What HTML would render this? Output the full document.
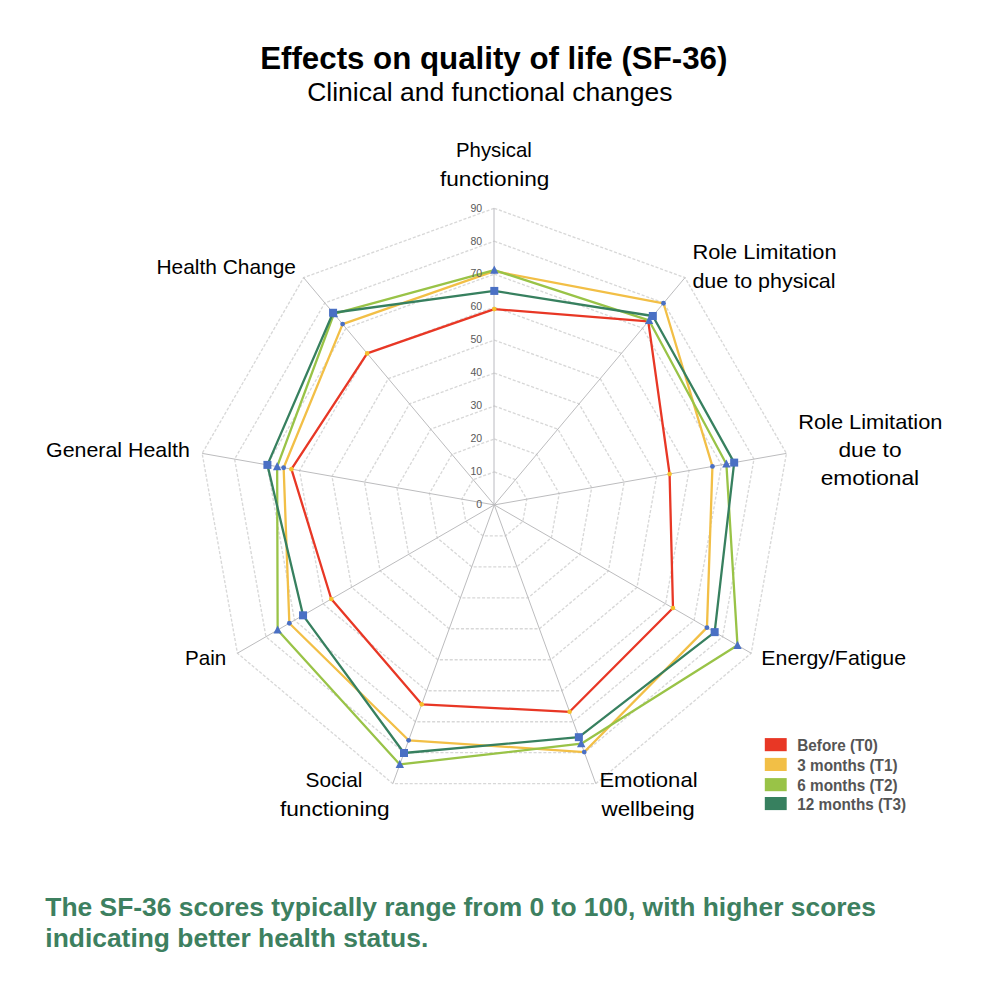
<!DOCTYPE html>
<html><head><meta charset="utf-8"><title>Effects on quality of life (SF-36)</title>
<style>
html,body{margin:0;padding:0;background:#fff;}
body{width:1000px;height:1000px;position:relative;overflow:hidden;font-family:"Liberation Sans",sans-serif;}
svg text{font-family:"Liberation Sans",sans-serif;}
</style></head><body>
<svg width="1000" height="1000" viewBox="0 0 1000 1000" style="position:absolute;left:0;top:0">
<polygon points="494.30,471.94 515.49,479.65 526.76,499.18 522.84,521.38 505.57,535.87 483.03,535.87 465.76,521.38 461.84,499.18 473.11,479.65" fill="none" stroke="#D8D8D8" stroke-width="1.35" stroke-dasharray="3.1 1.8"/>
<polygon points="494.30,438.98 536.67,454.40 559.22,493.45 551.39,537.86 516.85,566.84 471.75,566.84 437.21,537.86 429.38,493.45 451.93,454.40" fill="none" stroke="#D8D8D8" stroke-width="1.35" stroke-dasharray="3.1 1.8"/>
<polygon points="494.30,406.02 557.86,429.15 591.68,487.73 579.93,554.34 528.12,597.82 460.48,597.82 408.67,554.34 396.92,487.73 430.74,429.15" fill="none" stroke="#D8D8D8" stroke-width="1.35" stroke-dasharray="3.1 1.8"/>
<polygon points="494.30,373.06 579.05,403.90 624.14,482.01 608.48,570.82 539.39,628.79 449.21,628.79 380.12,570.82 364.46,482.01 409.55,403.90" fill="none" stroke="#D8D8D8" stroke-width="1.35" stroke-dasharray="3.1 1.8"/>
<polygon points="494.30,340.10 600.23,378.66 656.60,476.28 637.02,587.30 550.66,659.76 437.94,659.76 351.58,587.30 332.00,476.28 388.37,378.66" fill="none" stroke="#D8D8D8" stroke-width="1.35" stroke-dasharray="3.1 1.8"/>
<polygon points="494.30,307.14 621.42,353.41 689.06,470.56 665.57,603.78 561.94,690.73 426.66,690.73 323.03,603.78 299.54,470.56 367.18,353.41" fill="none" stroke="#D8D8D8" stroke-width="1.35" stroke-dasharray="3.1 1.8"/>
<polygon points="494.30,274.18 642.60,328.16 721.51,464.84 694.11,620.26 573.21,721.71 415.39,721.71 294.49,620.26 267.09,464.84 346.00,328.16" fill="none" stroke="#D8D8D8" stroke-width="1.35" stroke-dasharray="3.1 1.8"/>
<polygon points="494.30,241.22 663.79,302.91 753.97,459.11 722.65,636.74 584.48,752.68 404.12,752.68 265.95,636.74 234.63,459.11 324.81,302.91" fill="none" stroke="#D8D8D8" stroke-width="1.35" stroke-dasharray="3.1 1.8"/>
<polygon points="494.30,208.26 684.98,277.66 786.43,453.39 751.20,653.22 595.76,783.65 392.84,783.65 237.40,653.22 202.17,453.39 303.62,277.66" fill="none" stroke="#D8D8D8" stroke-width="1.35" stroke-dasharray="3.1 1.8"/>
<line x1="494" y1="504.90" x2="494" y2="208.26" stroke="#BABAC0" stroke-width="1"/>
<line x1="494.30" y1="504.90" x2="684.98" y2="277.66" stroke="#BCBCBE" stroke-width="1"/>
<line x1="494.30" y1="504.90" x2="786.43" y2="453.39" stroke="#BCBCBE" stroke-width="1"/>
<line x1="494.30" y1="504.90" x2="751.20" y2="653.22" stroke="#BCBCBE" stroke-width="1"/>
<line x1="494.30" y1="504.90" x2="595.76" y2="783.65" stroke="#BCBCBE" stroke-width="1"/>
<line x1="494.30" y1="504.90" x2="392.84" y2="783.65" stroke="#BCBCBE" stroke-width="1"/>
<line x1="494.30" y1="504.90" x2="237.40" y2="653.22" stroke="#BCBCBE" stroke-width="1"/>
<line x1="494.30" y1="504.90" x2="202.17" y2="453.39" stroke="#BCBCBE" stroke-width="1"/>
<line x1="494.30" y1="504.90" x2="303.62" y2="277.66" stroke="#BCBCBE" stroke-width="1"/>
<polygon points="494.30,309.12 648.28,321.39 669.58,473.99 672.99,608.06 569.60,711.79 421.70,704.36 331.31,599.00 291.43,469.13 367.18,353.41" fill="none" stroke="#E83725" stroke-width="2.30" stroke-linejoin="round"/>
<circle cx="494.30" cy="309.12" r="2.3" fill="#F5C02C"/>
<circle cx="648.28" cy="321.39" r="2.3" fill="#F5C02C"/>
<circle cx="669.58" cy="473.99" r="2.3" fill="#F5C02C"/>
<circle cx="672.99" cy="608.06" r="2.3" fill="#F5C02C"/>
<circle cx="569.60" cy="711.79" r="2.3" fill="#F5C02C"/>
<circle cx="421.70" cy="704.36" r="2.3" fill="#F5C02C"/>
<circle cx="331.31" cy="599.00" r="2.3" fill="#F5C02C"/>
<circle cx="291.43" cy="469.13" r="2.3" fill="#F5C02C"/>
<circle cx="367.18" cy="353.41" r="2.3" fill="#F5C02C"/>
<polygon points="494.30,271.21 663.49,303.26 712.43,466.44 706.95,627.68 584.26,752.06 408.63,740.29 289.35,623.23 283.64,467.75 342.61,324.12" fill="none" stroke="#F2BF46" stroke-width="2.30" stroke-linejoin="round"/>
<circle cx="494.30" cy="271.21" r="2.4" fill="#4A70C4"/>
<circle cx="663.49" cy="303.26" r="2.4" fill="#4A70C4"/>
<circle cx="712.43" cy="466.44" r="2.4" fill="#4A70C4"/>
<circle cx="706.95" cy="627.68" r="2.4" fill="#4A70C4"/>
<circle cx="584.26" cy="752.06" r="2.4" fill="#4A70C4"/>
<circle cx="408.63" cy="740.29" r="2.4" fill="#4A70C4"/>
<circle cx="289.35" cy="623.23" r="2.4" fill="#4A70C4"/>
<circle cx="283.64" cy="467.75" r="2.4" fill="#4A70C4"/>
<circle cx="342.61" cy="324.12" r="2.4" fill="#4A70C4"/>
<polygon points="494.30,270.06 649.09,320.43 726.38,463.98 737.50,645.31 581.21,743.70 399.83,764.45 277.65,629.98 277.15,466.61 333.92,313.77" fill="none" stroke="#99C347" stroke-width="2.30" stroke-linejoin="round"/>
<polygon points="494.30,265.46 498.50,273.66 490.10,273.66" fill="#4A70C4"/>
<polygon points="649.09,315.83 653.29,324.03 644.89,324.03" fill="#4A70C4"/>
<polygon points="726.38,459.38 730.58,467.58 722.18,467.58" fill="#4A70C4"/>
<polygon points="737.50,640.71 741.70,648.91 733.30,648.91" fill="#4A70C4"/>
<polygon points="581.21,739.10 585.41,747.30 577.01,747.30" fill="#4A70C4"/>
<polygon points="399.83,759.85 404.03,768.05 395.63,768.05" fill="#4A70C4"/>
<polygon points="277.65,625.38 281.85,633.58 273.45,633.58" fill="#4A70C4"/>
<polygon points="277.15,462.01 281.35,470.21 272.95,470.21" fill="#4A70C4"/>
<polygon points="333.92,309.17 338.12,317.37 329.72,317.37" fill="#4A70C4"/>
<polygon points="494.30,290.92 652.82,315.99 734.17,462.60 714.66,632.13 578.85,737.19 404.00,752.99 303.05,615.32 267.41,464.89 333.07,312.76" fill="none" stroke="#37805F" stroke-width="2.30" stroke-linejoin="round"/>
<rect x="490.30" y="286.92" width="8" height="8" fill="#4A70C4"/>
<rect x="648.82" y="311.99" width="8" height="8" fill="#4A70C4"/>
<rect x="730.17" y="458.60" width="8" height="8" fill="#4A70C4"/>
<rect x="710.66" y="628.13" width="8" height="8" fill="#4A70C4"/>
<rect x="574.85" y="733.19" width="8" height="8" fill="#4A70C4"/>
<rect x="400.00" y="748.99" width="8" height="8" fill="#4A70C4"/>
<rect x="299.05" y="611.32" width="8" height="8" fill="#4A70C4"/>
<rect x="263.41" y="460.89" width="8" height="8" fill="#4A70C4"/>
<rect x="329.07" y="308.76" width="8" height="8" fill="#4A70C4"/>
<text x="482.2" y="508.20" text-anchor="end" font-size="10.5" fill="#595959">0</text>
<text x="482.2" y="475.24" text-anchor="end" font-size="10.5" fill="#595959">10</text>
<text x="482.2" y="442.28" text-anchor="end" font-size="10.5" fill="#595959">20</text>
<text x="482.2" y="409.32" text-anchor="end" font-size="10.5" fill="#595959">30</text>
<text x="482.2" y="376.36" text-anchor="end" font-size="10.5" fill="#595959">40</text>
<text x="482.2" y="343.40" text-anchor="end" font-size="10.5" fill="#595959">50</text>
<text x="482.2" y="310.44" text-anchor="end" font-size="10.5" fill="#595959">60</text>
<text x="482.2" y="277.48" text-anchor="end" font-size="10.5" fill="#595959">70</text>
<text x="482.2" y="244.52" text-anchor="end" font-size="10.5" fill="#595959">80</text>
<text x="482.2" y="211.56" text-anchor="end" font-size="10.5" fill="#595959">90</text>
<text x="260.20" y="69.00" font-size="31.00" font-weight="bold" fill="#000" textLength="467.20" lengthAdjust="spacingAndGlyphs">Effects on quality of life (SF-36)</text>
<text x="307.20" y="100.50" font-size="26.30" font-weight="normal" fill="#000" textLength="365.20" lengthAdjust="spacingAndGlyphs">Clinical and functional changes</text>
<text x="456.00" y="156.90" font-size="20.70" font-weight="normal" fill="#000" textLength="75.80" lengthAdjust="spacingAndGlyphs">Physical</text>
<text x="440.00" y="186.00" font-size="20.70" font-weight="normal" fill="#000" textLength="109.40" lengthAdjust="spacingAndGlyphs">functioning</text>
<text x="692.40" y="259.30" font-size="20.70" font-weight="normal" fill="#000" textLength="144.20" lengthAdjust="spacingAndGlyphs">Role Limitation</text>
<text x="692.40" y="288.00" font-size="20.70" font-weight="normal" fill="#000" textLength="143.20" lengthAdjust="spacingAndGlyphs">due to physical</text>
<text x="798.20" y="428.80" font-size="20.70" font-weight="normal" fill="#000" textLength="144.30" lengthAdjust="spacingAndGlyphs">Role Limitation</text>
<text x="838.40" y="456.70" font-size="20.70" font-weight="normal" fill="#000" textLength="63.20" lengthAdjust="spacingAndGlyphs">due to</text>
<text x="820.70" y="485.10" font-size="20.70" font-weight="normal" fill="#000" textLength="98.40" lengthAdjust="spacingAndGlyphs">emotional</text>
<text x="761.30" y="664.60" font-size="20.70" font-weight="normal" fill="#000" textLength="144.80" lengthAdjust="spacingAndGlyphs">Energy/Fatigue</text>
<text x="599.40" y="786.90" font-size="20.70" font-weight="normal" fill="#000" textLength="98.20" lengthAdjust="spacingAndGlyphs">Emotional</text>
<text x="601.50" y="815.50" font-size="20.70" font-weight="normal" fill="#000" textLength="93.30" lengthAdjust="spacingAndGlyphs">wellbeing</text>
<text x="305.50" y="786.90" font-size="20.70" font-weight="normal" fill="#000" textLength="56.90" lengthAdjust="spacingAndGlyphs">Social</text>
<text x="279.90" y="815.50" font-size="20.70" font-weight="normal" fill="#000" textLength="109.80" lengthAdjust="spacingAndGlyphs">functioning</text>
<text x="185.00" y="665.40" font-size="20.70" font-weight="normal" fill="#000" textLength="41.20" lengthAdjust="spacingAndGlyphs">Pain</text>
<text x="46.00" y="456.70" font-size="20.70" font-weight="normal" fill="#000" textLength="143.80" lengthAdjust="spacingAndGlyphs">General Health</text>
<text x="156.40" y="274.20" font-size="20.70" font-weight="normal" fill="#000" textLength="139.60" lengthAdjust="spacingAndGlyphs">Health Change</text>
<rect x="764.8" y="738.10" width="21.9" height="13.1" fill="#E83725"/>
<text x="797.3" y="750.80" font-size="15.6" font-weight="bold" fill="#555555" textLength="80.67" lengthAdjust="spacingAndGlyphs">Before (T0)</text>
<rect x="764.8" y="757.90" width="21.9" height="13.1" fill="#F2BF46"/>
<text x="797.3" y="770.60" font-size="15.6" font-weight="bold" fill="#555555" textLength="100.20" lengthAdjust="spacingAndGlyphs">3 months (T1)</text>
<rect x="764.8" y="778.10" width="21.9" height="13.1" fill="#99C347"/>
<text x="797.3" y="790.80" font-size="15.6" font-weight="bold" fill="#555555" textLength="100.20" lengthAdjust="spacingAndGlyphs">6 months (T2)</text>
<rect x="764.8" y="797.00" width="21.9" height="13.1" fill="#37805F"/>
<text x="797.3" y="809.70" font-size="15.6" font-weight="bold" fill="#555555" textLength="108.70" lengthAdjust="spacingAndGlyphs">12 months (T3)</text>
<text x="45.3" y="916" font-size="26.42" font-weight="bold" fill="#3D8060">The SF-36 scores typically range from 0 to 100, with higher scores</text>
<text x="45.3" y="947.4" font-size="26.42" font-weight="bold" fill="#3D8060">indicating better health status.</text>
</svg>
</body></html>
